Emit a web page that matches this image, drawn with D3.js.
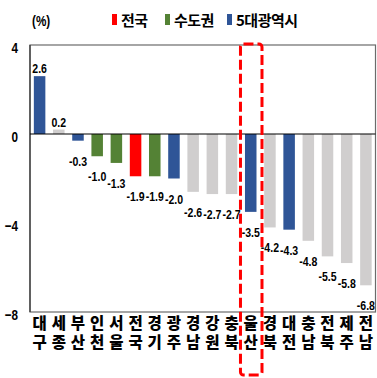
<!DOCTYPE html>
<html>
<head>
<meta charset="utf-8">
<script src="https://cdn.jsdelivr.net/npm/d3@7/dist/d3.min.js"></script>
<style>
  html, body { margin: 0; padding: 0; background: #fff; }
  svg { display: block; }
</style>
</head>
<body>
<svg id="chart" width="377" height="378"></svg>
<script>
// Regions, their change (%), and group
const regions = ["대구","세종","부산","인천","서울","전국","경기","광주","경남","강원","충북","울산","경북","대전","충남","전북","제주","전남"];
const values  = [2.6, 0.2, -0.3, -1.0, -1.3, -1.9, -1.9, -2.0, -2.6, -2.7, -2.7, -3.5, -4.2, -4.3, -4.8, -5.5, -5.8, -6.8];
const groups  = ["metro","other","metro","capital","capital","nation","capital","metro","other","other","other","metro","other","metro","other","other","other","other"];
const yTicks  = [4, 0, -4, -8];
const legendKeys   = ["nation","capital","metro"];
const legendLabels = ["전국","수도권","5대광역시"];
const highlighted  = "울산";

const colors = { nation: "#FF0000", capital: "#548235", metro: "#2F5597", other: "#D0CECE" };

const svg = d3.select("#chart");
const plot = { left: 30, right: 375.5, top: 45, bottom: 312 };

const x = d3.scaleBand().domain(regions).range([plot.left, plot.right]).paddingInner(0.4).paddingOuter(0.2);
const y = d3.scaleLinear().domain([-8, 4]).range([plot.bottom, plot.top]);

const numFont = "'Liberation Sans', Arial, sans-serif";
const krFont = "'Noto Sans CJK KR', sans-serif";
const narrow = 0.78; // horizontal squeeze for a condensed look

// plot frame
svg.append("rect")
  .attr("x", plot.left).attr("y", plot.top)
  .attr("width", plot.right - plot.left).attr("height", plot.bottom - plot.top)
  .attr("fill", "none").attr("stroke", "#6b6b6b").attr("stroke-width", 1.2);

// left axis line
svg.append("line")
  .attr("x1", plot.left).attr("x2", plot.left)
  .attr("y1", plot.top).attr("y2", plot.bottom)
  .attr("stroke", "#333").attr("stroke-width", 1.2);

// y tick labels
const yAxis = d3.axisLeft(y).tickValues(yTicks).tickSize(0).tickFormat(d3.format("d"));
const gy = svg.append("g").attr("transform", `translate(${plot.left},0)`).call(yAxis);
gy.select(".domain").remove();
gy.selectAll("text")
  .attr("x", 0).attr("dy", "0.5em")
  .attr("transform", `translate(-12,0) scale(${narrow},1)`)
  .attr("text-anchor", "end")
  .attr("font-family", numFont).attr("font-weight", "bold").attr("font-size", 15)
  .attr("fill", "#000");

// bars
svg.append("g").selectAll("rect").data(regions).join("rect")
  .attr("x", d => x(d))
  .attr("width", x.bandwidth())
  .attr("y", (d, i) => y(Math.max(0, values[i])))
  .attr("height", (d, i) => Math.abs(y(values[i]) - y(0)))
  .attr("fill", (d, i) => colors[groups[i]]);

// zero line
svg.append("line")
  .attr("x1", plot.left).attr("x2", plot.right)
  .attr("y1", y(0)).attr("y2", y(0))
  .attr("stroke", "#000").attr("stroke-width", 1.2);

// value labels
svg.append("g").selectAll("text").data(regions).join("text")
  .attr("transform", (d, i) => {
    const cx = x(d) + x.bandwidth() / 2;
    const ty = values[i] >= 0 ? y(values[i]) - 3 : y(values[i]) + 25;
    return `translate(${cx},${ty}) scale(${narrow},1)`;
  })
  .attr("text-anchor", "middle")
  .attr("font-family", numFont).attr("font-weight", "bold").attr("font-size", 13.5)
  .attr("fill", "#000")
  .text((d, i) => d3.format(".1f")(values[i]).replace("−", "-"));

// category labels, written top-to-bottom
svg.append("g").selectAll("text").data(regions).join("text")
  .attr("x", d => x(d) + x.bandwidth() / 2)
  .attr("y", 315)
  .style("writing-mode", "vertical-rl")
  .style("text-orientation", "upright")
  .attr("letter-spacing", 3.5)
  .attr("font-family", krFont).attr("font-weight", 900).attr("font-size", 15.5)
  .attr("fill", "#000")
  .text(d => d);

// highlight box around one region
const hx = x(highlighted);
svg.append("rect")
  .attr("x", hx - 4.5).attr("y", 44)
  .attr("width", x.bandwidth() + 10).attr("height", 331)
  .attr("rx", 3)
  .attr("fill", "none").attr("stroke", "#FF0000").attr("stroke-width", 3)
  .attr("stroke-dasharray", "10,4");

// unit
svg.append("text")
  .attr("transform", `translate(32,26) scale(${narrow},1)`)
  .attr("font-family", numFont).attr("font-weight", "bold").attr("font-size", 15)
  .attr("fill", "#000").text("(%)");

// legend
const legendX = [112, 165, 227];
const lg = svg.append("g").selectAll("g").data(legendKeys).join("g")
  .attr("transform", (d, i) => `translate(${legendX[i]},0)`);
lg.append("rect").attr("x", 0).attr("y", 14).attr("width", 5).attr("height", 11)
  .attr("fill", d => colors[d]);
lg.append("text").attr("x", 9).attr("y", 26)
  .attr("font-family", krFont).attr("font-weight", 700).attr("font-size", 15)
  .attr("letter-spacing", -0.5)
  .attr("fill", "#000").text((d, i) => legendLabels[i]);
</script>
</body>
</html>
